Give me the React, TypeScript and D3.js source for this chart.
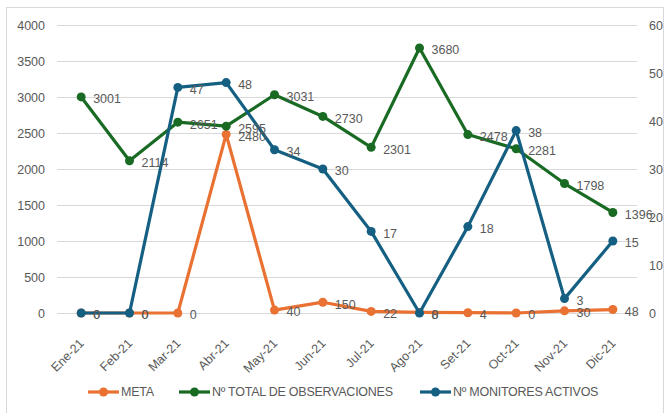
import React, { useEffect, useRef } from "react";
import * as d3 from "d3";

const months = ["Ene-21", "Feb-21", "Mar-21", "Abr-21", "May-21", "Jun-21", "Jul-21", "Ago-21", "Set-21", "Oct-21", "Nov-21", "Dic-21"];
const meta = [0, 0, 0, 2480, 40, 150, 22, 8, 4, 0, 30, 48];
const totalObs = [3001, 2114, 2651, 2595, 3031, 2730, 2301, 3680, 2478, 2281, 1798, 1396];
const monitores = [0, 0, 47, 48, 34, 30, 17, 0, 18, 38, 3, 15];
const leftTicks = [0, 500, 1000, 1500, 2000, 2500, 3000, 3500, 4000];
const rightTicks = [0, 10, 20, 30, 40, 50, 60];
const legendNames = ["META", "Nº TOTAL DE OBSERVACIONES", "Nº MONITORES ACTIVOS"];

const W = 667;
const H = 413;
const FONT = "'Liberation Sans', Arial, sans-serif";
const TEXT = "#595959";

const App = () => {
  const svgRef = useRef<SVGSVGElement>(null);

  useEffect(() => {
    const svg = d3.select(svgRef.current);
    svg.selectAll("*").remove();

    // borde del gráfico
    svg
      .append("rect")
      .attr("x", 6.5)
      .attr("y", 7.5)
      .attr("width", 657)
      .attr("height", 420)
      .attr("fill", "white")
      .attr("stroke", "#d9d9d9");

    const x = d3.scalePoint().domain(months).range([57, 637]).padding(0.5);
    const yL = d3.scaleLinear().domain([0, 4000]).range([313, 25]);
    const yR = d3.scaleLinear().domain([0, 60]).range([313, 25]);

    // grilla
    svg
      .append("g")
      .selectAll("line")
      .data(leftTicks)
      .join("line")
      .attr("x1", 57)
      .attr("x2", 637)
      .attr("y1", (d) => Math.round(yL(d)) + 0.5)
      .attr("y2", (d) => Math.round(yL(d)) + 0.5)
      .attr("stroke", "#d9d9d9")
      .attr("stroke-width", 1);

    // eje izquierdo
    const axisL = svg
      .append("g")
      .attr("transform", "translate(45,0)")
      .call(d3.axisLeft(yL).tickValues(leftTicks).tickFormat(d3.format("d")).tickSize(0).tickPadding(0));
    axisL.select(".domain").remove();
    axisL
      .selectAll("text")
      .attr("fill", TEXT)
      .style("font-family", FONT)
      .style("font-size", "12.5px");

    // eje derecho
    const axisR = svg
      .append("g")
      .attr("transform", "translate(649,0)")
      .call(d3.axisRight(yR).tickValues(rightTicks).tickFormat(d3.format("d")).tickSize(0).tickPadding(0));
    axisR.select(".domain").remove();
    axisR
      .selectAll("text")
      .attr("fill", TEXT)
      .style("font-family", FONT)
      .style("font-size", "12.5px");

    // eje x
    const axisX = svg
      .append("g")
      .attr("transform", "translate(0,313)")
      .call(d3.axisBottom(x).tickSize(0).tickPadding(0));
    axisX.select(".domain").remove();
    axisX
      .selectAll("text")
      .attr("fill", TEXT)
      .attr("y", 0)
      .style("font-family", FONT)
      .style("font-size", "12.5px")
      .attr("text-anchor", "end")
      .attr("dy", "0.35em")
      .attr("transform", "translate(0,28) rotate(-45)");

    const series = [
      { values: meta, scale: yL, color: "#E97132" },
      { values: totalObs, scale: yL, color: "#196B24" },
      { values: monitores, scale: yR, color: "#156082" },
    ];

    series.forEach((s) => {
      const line = d3
        .line<number>()
        .x((d, i) => x(months[i]) as number)
        .y((d) => s.scale(d));
      svg
        .append("path")
        .attr("d", line(s.values))
        .attr("fill", "none")
        .attr("stroke", s.color)
        .attr("stroke-width", 3.2)
        .attr("stroke-linejoin", "round");
      svg
        .append("g")
        .selectAll("circle")
        .data(s.values)
        .join("circle")
        .attr("cx", (d, i) => x(months[i]) as number)
        .attr("cy", (d) => s.scale(d))
        .attr("r", 4.5)
        .attr("fill", s.color);
    });

    // etiquetas de datos
    series.forEach((s) => {
      svg
        .append("g")
        .selectAll("text")
        .data(s.values)
        .join("text")
        .attr("x", (d, i) => (x(months[i]) as number) + 12)
        .attr("y", (d) => s.scale(d) + 2)
        .attr("dy", "0.35em")
        .attr("fill", TEXT)
        .style("font-family", FONT)
        .style("font-size", "12.5px")
        .text((d) => d);
    });

    // leyenda
    const legendX = [88, 179, 420];
    const legend = svg
      .append("g")
      .selectAll("g")
      .data(series)
      .join("g")
      .attr("transform", (d, i) => `translate(${legendX[i]},392)`);
    legend
      .append("line")
      .attr("x1", 0)
      .attr("x2", 31)
      .attr("stroke", (d) => d.color)
      .attr("stroke-width", 3.2);
    legend
      .append("circle")
      .attr("cx", 15.5)
      .attr("r", 4.5)
      .attr("fill", (d) => d.color);
    legend
      .append("text")
      .attr("x", 33)
      .attr("dy", "0.35em")
      .attr("fill", TEXT)
      .style("font-family", FONT)
      .style("font-size", "12.5px")
      .style("letter-spacing", "-0.25px")
      .text((d, i) => legendNames[i]);
  }, []);

  return (
    <svg
      ref={svgRef}
      width={W}
      height={H}
      style={{ position: "absolute", left: 0, top: 0, background: "white" }}
    />
  );
};

export default App;
